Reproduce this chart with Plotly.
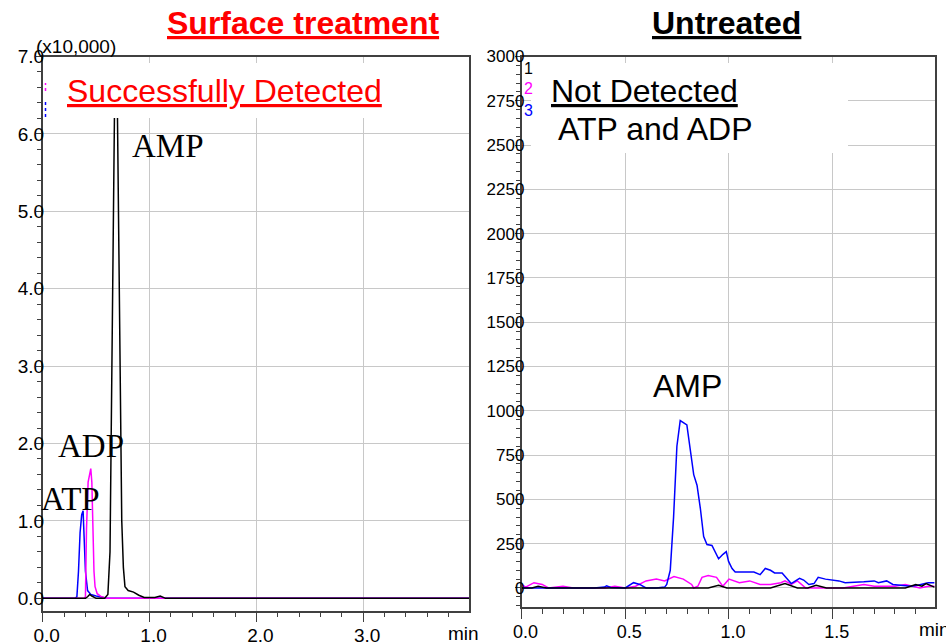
import plotly.graph_objects as go

W, H = 946, 642

# ---------------- Data: Surface treatment (x10,000 counts) ----------------
left_atp_t = [0.0, 0.30, 0.32, 0.335, 0.35, 0.365, 0.378, 0.39, 0.40, 0.42, 0.45, 0.50, 0.55, 0.60, 1.0, 2.0, 3.0, 3.99]
left_atp_y = [0.0, 0.0, 0.02, 0.35, 0.85, 1.08, 1.13, 0.8, 0.35, 0.10, 0.05, 0.03, 0.01, 0.0, 0.0, 0.0, 0.0, 0.0]

left_adp_t = [0.0, 0.39, 0.40, 0.41, 0.425, 0.44, 0.45, 0.46, 0.47, 0.48, 0.49, 0.51, 0.55, 0.60, 1.0, 2.0, 3.0, 3.99]
left_adp_y = [0.0, 0.0, 0.02, 0.9, 1.5, 1.62, 1.675, 1.5, 0.9, 0.35, 0.15, 0.06, 0.02, 0.0, 0.0, 0.0, 0.0, 0.0]

left_amp_t = [0.0, 0.40, 0.42, 0.44, 0.46, 0.50, 0.58, 0.61, 0.63, 0.645, 0.66, 0.672, 0.68, 0.69, 0.70,
              0.712, 0.725, 0.74, 0.755, 0.77, 0.80, 0.85, 0.90, 0.95, 1.05, 1.10, 1.15, 1.30, 2.0, 3.0, 3.99]
left_amp_y = [0.0, 0.0, 0.02, 0.05, 0.03, 0.0, 0.0, 0.05, 0.6, 2.5, 5.0, 6.3, 6.6, 6.6, 6.2,
              4.5, 2.5, 1.0, 0.4, 0.15, 0.10, 0.08, 0.04, 0.01, 0.01, 0.03, 0.0, 0.0, 0.0, 0.0, 0.0]

# ---------------- Data: Untreated (counts) ----------------
right_blue_t = [0.0, 0.35, 0.40, 0.41, 0.43, 0.50, 0.54, 0.57, 0.60, 0.65, 0.69, 0.70, 0.717, 0.733, 0.749,
                0.765, 0.797, 0.83, 0.846, 0.862, 0.878, 0.894, 0.918, 0.934, 0.95, 0.971, 0.987, 0.998,
                1.015, 1.03, 1.09, 1.12, 1.15, 1.175, 1.20, 1.22, 1.256, 1.30, 1.34, 1.36, 1.385, 1.41,
                1.43, 1.465, 1.53, 1.56, 1.65, 1.70, 1.72, 1.76, 1.79, 1.875, 1.91, 1.96, 1.99]
right_blue_y = [0, 0, 5, 12, 3, 0, 30, 20, 0, 0, 5, 20, 100, 400, 800,
                945, 920, 640, 580, 450, 290, 245, 240, 200, 165, 190, 205, 150,
                110, 90, 90, 90, 75, 110, 100, 85, 85, 25, 55, 45, 20, 25,
                60, 50, 40, 30, 35, 40, 30, 40, 20, 10, 15, 30, 30]

right_mag_t = [0.0, 0.02, 0.06, 0.10, 0.13, 0.20, 0.25, 0.40, 0.45, 0.50, 0.55, 0.60, 0.65, 0.69, 0.735,
               0.78, 0.82, 0.83, 0.85, 0.87, 0.90, 0.94, 0.97, 1.00, 1.05, 1.10, 1.15, 1.20, 1.25, 1.27,
               1.30, 1.33, 1.37, 1.45, 1.55, 1.65, 1.70, 1.80, 1.85, 1.92, 1.96, 1.99]
right_mag_y = [20, 5, 30, 20, 0, 10, 0, 0, 10, 0, 10, 40, 50, 40, 65,
               50, 20, 0, 10, 60, 70, 60, 10, 50, 30, 40, 20, 20, 30, 40,
               20, 40, 0, 0, 0, 20, 10, 10, 20, 0, 10, 10]

right_blk_t = [0.0, 0.05, 0.08, 0.12, 0.90, 0.95, 0.99, 1.20, 1.27, 1.33, 1.38, 1.42, 1.47, 1.85, 1.90, 1.93, 1.95, 1.99]
right_blk_y = [0, 0, 10, 0, 0, 15, 0, 0, 25, 0, 0, 15, 0, 0, 20, 10, 25, 5]

# ---------------- Tick settings ----------------
left_x_ticks = [0.0, 1.0, 2.0, 3.0]
left_y_ticks = [0.0, 1.0, 2.0, 3.0, 4.0, 5.0, 6.0, 7.0]
right_x_ticks = [0.0, 0.5, 1.0, 1.5]
right_y_ticks = [0, 250, 500, 750, 1000, 1250, 1500, 1750, 2000, 2250, 2500, 2750, 3000]


def px(x):
    return x / W


def py(y):
    return 1 - y / H


fig = go.Figure()

line_w = 1.5
fig.add_trace(go.Scatter(x=left_atp_t, y=left_atp_y, mode="lines", line=dict(color="#0000ff", width=line_w),
                         xaxis="x", yaxis="y", showlegend=False))
fig.add_trace(go.Scatter(x=left_adp_t, y=left_adp_y, mode="lines", line=dict(color="#ff00ff", width=line_w),
                         xaxis="x", yaxis="y", showlegend=False))
fig.add_trace(go.Scatter(x=left_amp_t, y=left_amp_y, mode="lines", line=dict(color="#000000", width=line_w),
                         xaxis="x", yaxis="y", showlegend=False))

fig.add_trace(go.Scatter(x=right_mag_t, y=right_mag_y, mode="lines", line=dict(color="#ff00ff", width=line_w),
                         xaxis="x2", yaxis="y2", showlegend=False))
fig.add_trace(go.Scatter(x=right_blue_t, y=right_blue_y, mode="lines", line=dict(color="#0000ff", width=line_w),
                         xaxis="x2", yaxis="y2", showlegend=False))
fig.add_trace(go.Scatter(x=right_blk_t, y=right_blk_y, mode="lines", line=dict(color="#000000", width=line_w),
                         xaxis="x2", yaxis="y2", showlegend=False))

sans = "Liberation Sans, Arial"
serif = "Liberation Serif, Times New Roman"

axis_common = dict(showline=True, linecolor="#404040", linewidth=1.5, mirror=True,
                   gridcolor="#c8c8c8", gridwidth=1, zeroline=False,
                   ticks="outside", tickcolor="#404040", automargin=False)

fig.update_layout(
    width=W, height=H,
    margin=dict(l=0, r=0, t=0, b=0, autoexpand=False),
    paper_bgcolor="white", plot_bgcolor="white",
    xaxis=dict(domain=[px(42.7), px(469)], range=[0, 3.99], tickvals=left_x_ticks, tickformat=".1f",
               ticklen=10, ticklabelshift=4, ticklabelstandoff=-3, tickfont=dict(family=sans, size=19, color="#000"),
               minor=dict(dtick=0.2, tick0=0, ticks="outside", ticklen=5, tickcolor="#404040", showgrid=False),
               anchor="y", **axis_common),
    yaxis=dict(domain=[py(610.7), py(56.5)], range=[-0.16, 7.0], tickvals=left_y_ticks, tickformat=".1f",
               ticklen=5, ticklabelstandoff=-12, tickfont=dict(family=sans, size=19, color="#000"),
               minor=dict(dtick=0.2, tick0=0, ticks="outside", ticklen=4, tickcolor="#404040", showgrid=False),
               anchor="x", **axis_common),
    xaxis2=dict(domain=[px(521.5), px(935)], range=[0, 1.993], tickvals=right_x_ticks, tickformat=".1f",
                ticklen=10, ticklabelshift=4, ticklabelstandoff=-3, tickfont=dict(family=sans, size=18, color="#000"),
                minor=dict(dtick=0.1, tick0=0, ticks="outside", ticklen=5, tickcolor="#404040", showgrid=False),
                anchor="y2", **axis_common),
    yaxis2=dict(domain=[py(607.3), py(56.5)], range=[-109, 3000], tickvals=right_y_ticks,
                ticklen=5, ticklabelstandoff=-13, tickfont=dict(family=sans, size=17, color="#000"),
                minor=dict(dtick=50, tick0=0, ticks="outside", ticklen=4, tickcolor="#404040", showgrid=False),
                anchor="x2", **axis_common),
)

# white boxes covering the plot tops (behind the overlay texts)
fig.add_shape(type="rect", xref="paper", yref="paper", x0=px(47), x1=px(460), y0=py(118), y1=py(63),
              fillcolor="white", line=dict(width=0), layer="above")
fig.add_shape(type="rect", xref="paper", yref="paper", x0=px(531), x1=px(848), y0=py(153), y1=py(63),
              fillcolor="white", line=dict(width=0), layer="above")
# partially hidden legend marks in the left panel
fig.add_shape(type="line", xref="paper", yref="paper", x0=px(45.5), x1=px(45.5), y0=py(91), y1=py(83),
              line=dict(color="#ff00ff", width=1.5, dash="dot"), layer="above")
fig.add_shape(type="line", xref="paper", yref="paper", x0=px(45.5), x1=px(45.5), y0=py(117), y1=py(102),
              line=dict(color="#0000ff", width=1.5, dash="dot"), layer="above")


def ann(text, x, y, size, color="#000", family=sans, xanchor="center"):
    fig.add_annotation(text=text, x=px(x), y=py(y), xref="paper", yref="paper", showarrow=False,
                       xanchor=xanchor, yanchor="middle", font=dict(family=family, size=size, color=color))


ann("<b><u>Surface treatment</u></b>", 303, 23, 32, color="#ff0000")
ann("<b><u>Untreated</u></b>", 726, 23, 32)
ann("(x10,000)", 34, 46, 19, xanchor="left")
ann("<u>Successfully Detected</u>", 65, 91, 32, color="#ff0000", xanchor="left")
ann("AMP", 130, 146, 33, family=serif, xanchor="left")
ann("ADP", 56, 446, 33, family=serif, xanchor="left")
ann("ATP", 39, 499, 33, family=serif, xanchor="left")
ann("<u>Not Detected</u>", 549, 91, 32, xanchor="left")
ann("ATP and ADP", 556, 129, 32, xanchor="left")
ann("AMP", 651, 386, 32, xanchor="left")
ann("min", 446, 633, 19, xanchor="left")
ann("min", 917, 629, 19, xanchor="left")
ann("1", 522, 68, 16, xanchor="left")
ann("2", 522, 89, 16, color="#ff00ff", xanchor="left")
ann("3", 522, 110, 16, color="#0000ff", xanchor="left")

fig.write_html("out.html", config={"displayModeBar": False},
               post_script="document.body.style.margin='0';document.body.style.padding='0';")
